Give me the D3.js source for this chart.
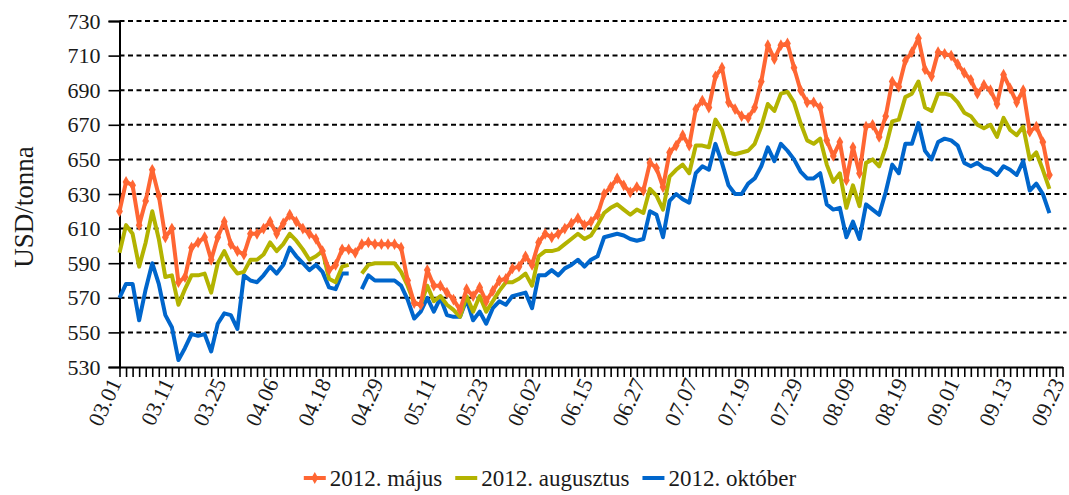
<!DOCTYPE html>
<html>
<head>
<meta charset="utf-8">
<script src="https://cdn.jsdelivr.net/npm/d3@7"></script>
<style>
  body { margin: 0; background: #fff; }
  svg { display: block; }
  svg text { font-family: "Liberation Serif", "DejaVu Serif", serif; fill: #1a1a1a; }
  .domain { stroke: #000; stroke-width: 2; }
  .tick line { stroke: #000; stroke-width: 1.6; }
</style>
</head>
<body>
<div id="chart"></div>
<script>
// tick labels, one every 8 trading days
const tickLabels = ["03.01", "03.11", "03.25", "04.06", "04.18", "04.29", "05.11", "05.23", "06.02",
  "06.15", "06.27", "07.07", "07.19", "07.29", "08.09", "08.19", "09.01", "09.13", "09.23"];
const labelStep = 8;
const categoryCount = 145;

const seriesNames = ["2012. május", "2012. augusztus", "2012. október"];
const seriesColors = ["#FF6633", "#B3B300", "#0066CC"];

const majus = [620, 637, 635, 612, 626, 644, 629, 605, 610, 579, 582, 599, 602, 605, 592, 605, 614, 601, 597, 595,
  607, 607, 610, 614, 607, 613, 618, 614, 610, 607, 604, 597, 586, 589, 598, 598, 596, 601, 602, 601,
  601, 601, 601, 599, 580, 567, 566, 586, 577, 577, 573, 569, 563, 575, 571, 576, 568, 574, 580, 581,
  587, 588, 594, 589, 602, 607, 605, 607, 610, 613, 616, 612, 614, 618, 630, 634, 639, 635, 631, 634,
  632, 648, 645, 634, 654, 658, 664, 658, 679, 684, 680, 698, 703, 683, 679, 675, 674, 680, 695, 716,
  708, 716, 717, 703, 690, 683, 683, 680, 661, 652, 660, 638, 657, 642, 669, 670, 663, 675, 695, 692,
  707, 712, 720, 702, 698, 712, 711, 710, 705, 700, 696, 688, 693, 690, 682, 699, 691, 683, 690, 666,
  669, 660, 641];

const augusztus = [596, 612, 607, 588, 602, 620, 604, 582, 583, 566, 575, 583, 583, 584, 573, 590, 597, 589, 584, 585,
  592, 592, 595, 602, 597, 601, 607, 603, 598, 592, 594, 597, 581, 579, 588, 589, null, 584, 589, 590,
  590, 590, 590, 585, 577, 567, 566, 577, 568, 571, 566, 563, 559, 571, 562, 571, 562, 568, 574, 579,
  579, 581, 584, 577, 594, 597, 597, 598, 601, 604, 607, 604, 606, 612, 619, 622, 624, 621, 618, 621,
  619, 633, 629, 621, 640, 644, 647, 642, 658, 658, 657, 673, 667, 654, 653, 654, 655, 659, 669, 682,
  678, 688, 689, 683, 671, 661, 659, 662, 647, 637, 642, 622, 635, 623, 648, 650, 646, 657, 672, 673,
  686, 688, 695, 680, 678, 688, 688, 687, 683, 677, 675, 670, 668, 670, 663, 674, 667, 664, 669, 650,
  654, 644, 633];

const oktober = [570, 578, 578, 557, 575, 590, 578, 560, 553, 534, 541, 549, 548, 549, 539, 555, 561, 560, 552, 583,
  580, 579, 583, 588, 584, 589, 599, 594, 590, 586, 589, 585, 576, 575, 584, 584, null, 575, 583, 580,
  580, 580, 580, 577, 569, 558, 562, 570, 562, 570, 560, 559, 559, 569, 557, 562, 555, 564, 568, 566,
  571, 572, 573, 564, 583, 583, 586, 583, 587, 589, 592, 588, 592, 594, 605, 606, 607, 606, 604, 603,
  604, 620, 618, 605, 626, 630, 627, 625, 642, 646, 644, 659, 648, 635, 630, 630, 636, 639, 646, 657,
  649, 659, 655, 650, 643, 639, 639, 642, 624, 621, 622, 605, 614, 604, 624, 621, 618, 631, 647, 642,
  659, 659, 671, 655, 650, 660, 662, 661, 658, 648, 646, 648, 645, 644, 641, 646, 644, 641, 649, 632,
  636, 630, 619];

const yTicks = [530, 550, 570, 590, 610, 630, 650, 670, 690, 710, 730];

const width = 1069, height = 495;
const plot = { left: 119.5, right: 1062.5, top: 21, bottom: 367 };
const serif = '"Liberation Serif", "DejaVu Serif", serif';

const svg = d3.select("#chart").append("svg")
  .attr("width", width)
  .attr("height", height);

const x = d3.scalePoint()
  .domain(d3.range(categoryCount))
  .range([plot.left, plot.right]);

const y = d3.scaleLinear()
  .domain([530, 730])
  .range([plot.bottom, plot.top]);

// dashed gridlines
svg.append("g")
  .selectAll("line")
  .data(yTicks.slice(1))
  .enter().append("line")
  .attr("x1", plot.left)
  .attr("x2", plot.right + 4)
  .attr("y1", d => y(d))
  .attr("y2", d => y(d))
  .attr("stroke", "#000")
  .attr("stroke-width", 2)
  .attr("stroke-dasharray", "5,3.5");

// y axis
const yAxis = svg.append("g")
  .attr("transform", `translate(${plot.left},0)`)
  .call(d3.axisLeft(y).tickValues(yTicks).tickSize(11).tickPadding(8));
yAxis.attr("font-family", serif).attr("font-size", 22);

// x axis, tick mark on every category, label on every 8th
const xAxis = svg.append("g")
  .attr("transform", `translate(0,${plot.bottom})`)
  .call(d3.axisBottom(x)
    .tickSize(10)
    .tickSizeOuter(0)
    .tickFormat(i => i % labelStep === 0 ? tickLabels[i / labelStep] : ""));
xAxis.attr("font-family", serif).attr("font-size", 22);
xAxis.selectAll("text")
  .attr("text-anchor", "end")
  .attr("y", 0)
  .attr("dy", "0.3em")
  .attr("transform", "translate(-4,13) rotate(-65)");

svg.append("text")
  .attr("transform", `translate(33,207) rotate(-90)`)
  .attr("text-anchor", "middle")
  .style("font-size", "27px")
  .text("USD/tonna");

const line = d3.line()
  .defined(d => d != null)
  .x((d, i) => x(i))
  .y(d => y(d));

const allSeries = [majus, augusztus, oktober];

// draw last series first so május sits on top
[2, 1, 0].forEach(s => {
  svg.append("path")
    .datum(allSeries[s])
    .attr("fill", "none")
    .attr("stroke", seriesColors[s])
    .attr("stroke-width", 4)
    .attr("stroke-linejoin", "round")
    .attr("d", line);
});

const diamond = d3.symbol().type(d3.symbolDiamond).size(40);
svg.append("g")
  .selectAll("path")
  .data(majus)
  .enter().append("path")
  .attr("d", diamond)
  .attr("transform", (d, i) => `translate(${x(i)},${y(d)})`)
  .attr("fill", seriesColors[0]);

// legend
const legend = svg.append("g");
let lx = 0;
seriesNames.forEach((name, s) => {
  const g = legend.append("g").attr("transform", `translate(${lx},0)`);
  g.append("line")
    .attr("x1", 0).attr("x2", 22)
    .attr("stroke", seriesColors[s])
    .attr("stroke-width", 4);
  if (s === 0) {
    g.append("path").attr("d", diamond)
      .attr("transform", "translate(11,0)")
      .attr("fill", seriesColors[s]);
  }
  const t = g.append("text")
    .attr("x", 26)
    .attr("dy", "0.33em")
    .style("font-size", "23px")
    .text(name);
  lx += 26 + t.node().getComputedTextLength() + 13;
});
const total = lx - 13;
legend.attr("transform", `translate(${550 - total / 2},478)`);
</script>
</body>
</html>
